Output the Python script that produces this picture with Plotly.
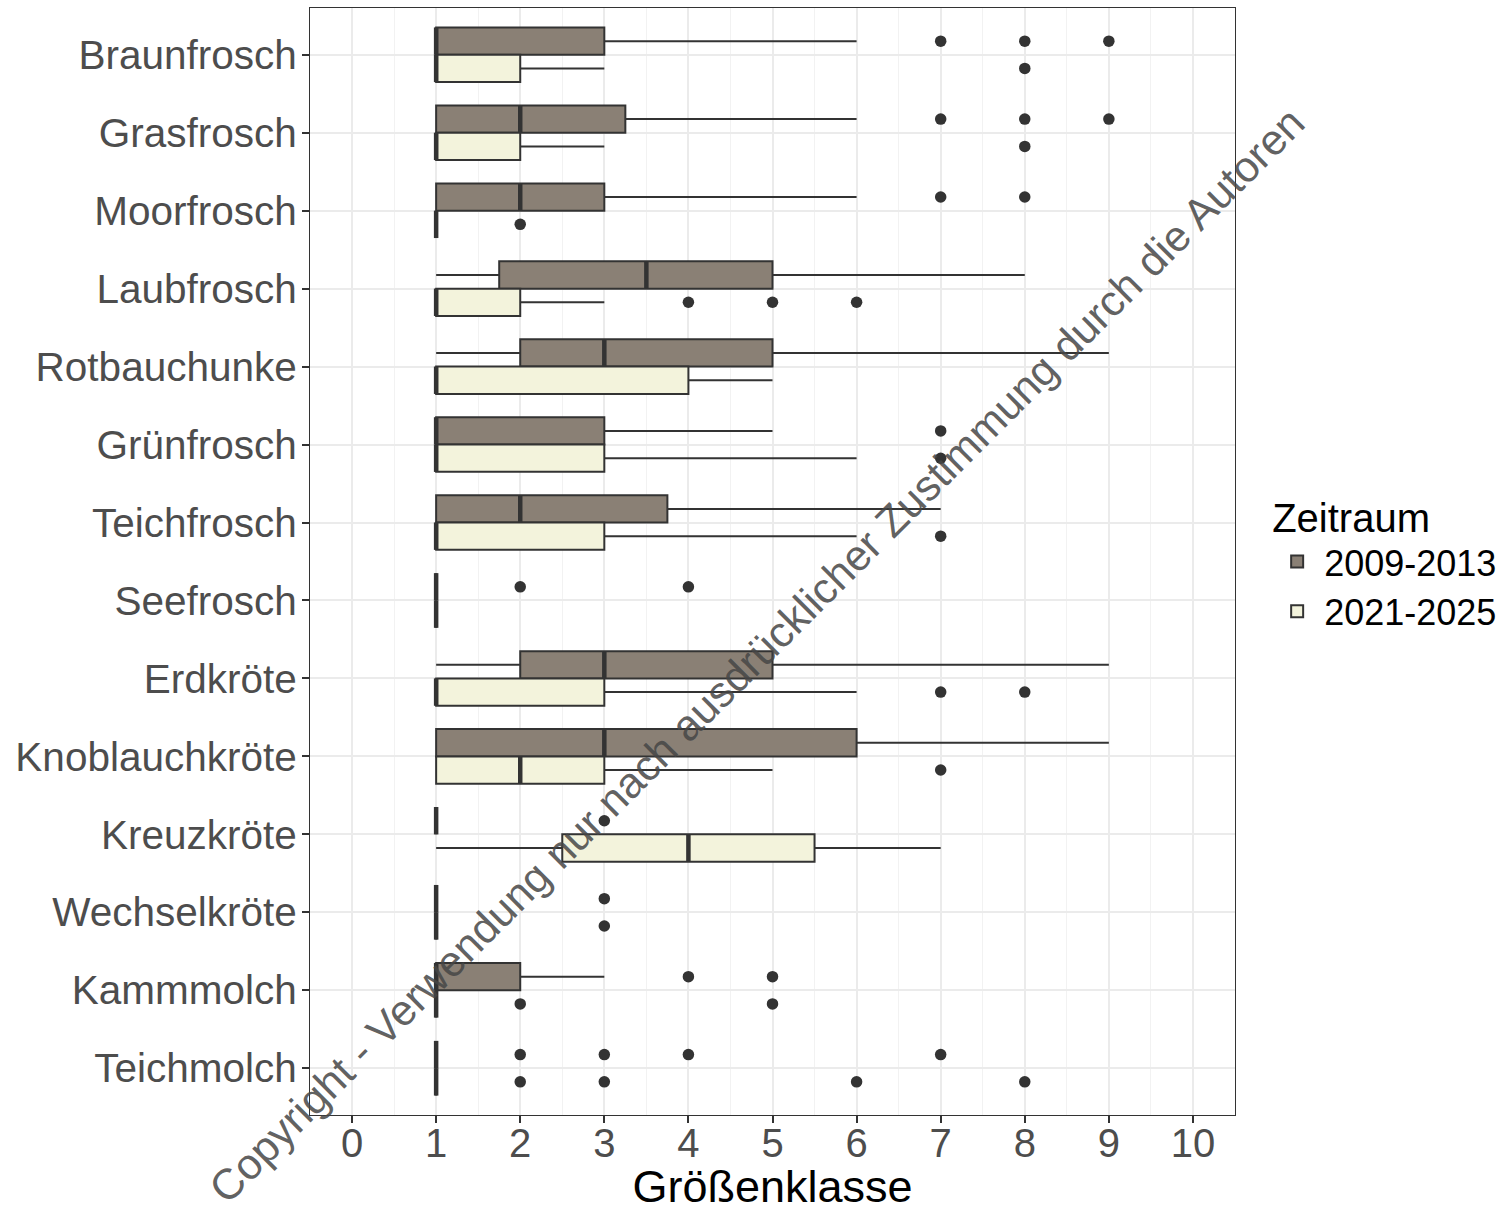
import plotly.graph_objects as go

# Species (top to bottom)
species = ["Braunfrosch", "Grasfrosch", "Moorfrosch", "Laubfrosch", "Rotbauchunke",
           "Grünfrosch", "Teichfrosch", "Seefrosch", "Erdkröte", "Knoblauchkröte",
           "Kreuzkröte", "Wechselkröte", "Kammmolch", "Teichmolch"]

periods = ["2009-2013", "2021-2025"]

# Box statistics per species, period 2009-2013
low_0913 = [1, 1, 1, 1, 1, 1, 1, 1, 1, 1, 1, 1, 1, 1]
q1_0913 = [1, 1, 1, 1.75, 2, 1, 1, 1, 2, 1, 1, 1, 1, 1]
med_0913 = [1, 2, 2, 3.5, 3, 1, 2, 1, 3, 3, 1, 1, 1, 1]
q3_0913 = [3, 3.25, 3, 5, 5, 3, 3.75, 1, 5, 6, 1, 1, 2, 1]
high_0913 = [6, 6, 6, 8, 9, 5, 7, 1, 9, 9, 1, 1, 3, 1]
out_0913 = [[7, 8, 9], [7, 8, 9], [7, 8], [], [], [7], [], [2, 4], [], [], [3], [3], [4, 5], [2, 3, 4, 7]]

# Box statistics per species, period 2021-2025
low_2125 = [1, 1, 1, 1, 1, 1, 1, 1, 1, 1, 1, 1, 1, 1]
q1_2125 = [1, 1, 1, 1, 1, 1, 1, 1, 1, 1, 2.5, 1, 1, 1]
med_2125 = [1, 1, 1, 1, 1, 1, 1, 1, 1, 2, 4, 1, 1, 1]
q3_2125 = [2, 2, 1, 2, 4, 3, 3, 1, 3, 3, 5.5, 1, 1, 1]
high_2125 = [3, 3, 1, 3, 5, 6, 6, 1, 6, 5, 7, 1, 1, 1]
out_2125 = [[8], [8], [2], [4, 5, 6], [], [7], [7], [], [7, 8], [7], [], [3], [2, 5], [2, 3, 6, 8]]

x_ticks = list(range(0, 11))

fill_colors = ["#8A8075", "#F3F3DC"]
edge = "#333333"
box_w = 0.35
dodge = [-box_w / 2, box_w / 2]

stats = [
    (low_0913, q1_0913, med_0913, q3_0913, high_0913, out_0913),
    (low_2125, q1_2125, med_2125, q3_2125, high_2125, out_2125),
]

fig = go.Figure()

for k, (low, q1, med, q3, high, outl) in enumerate(stats):
    pos = [i + dodge[k] for i in range(len(species))]
    fig.add_trace(go.Box(
        name=periods[k], orientation="h", y=pos,
        q1=q1, median=med, q3=q3, lowerfence=low, upperfence=high,
        width=box_w, whiskerwidth=0, boxpoints=False,
        fillcolor=fill_colors[k], line=dict(color=edge, width=2),
        hoverinfo="skip", showlegend=True, legendrank=k + 1,
    ))
    # thick median strokes
    fig.add_trace(go.Scatter(
        x=med, y=pos, mode="markers", showlegend=False, hoverinfo="skip",
        marker=dict(symbol="line-ns", size=19.6, color=edge,
                    line=dict(color=edge, width=4.5)),
    ))
    # outliers
    ox, oy = [], []
    for i, vals in enumerate(outl):
        for v in vals:
            ox.append(v)
            oy.append(pos[i])
    fig.add_trace(go.Scatter(
        x=ox, y=oy, mode="markers", showlegend=False, hoverinfo="skip",
        marker=dict(symbol="circle", size=11.5, color=edge, line=dict(width=0)),
    ))

font_family = "Liberation Sans, Arial, sans-serif"

fig.update_layout(
    width=1506, height=1212, autosize=False,
    margin=dict(l=310, r=271, t=8, b=97, autoexpand=False),
    paper_bgcolor="white", plot_bgcolor="white",
    font=dict(family=font_family),
    boxmode="overlay",
    xaxis=dict(
        range=[-0.5, 10.5], tickvals=x_ticks, ticktext=[str(v) for v in x_ticks],
        automargin=False,
        showgrid=True, gridcolor="#EBEBEB", gridwidth=1.6,
        minor=dict(dtick=0.5, tick0=0, showgrid=True, gridcolor="#F2F2F2", gridwidth=1, ticks=""),
        ticks="outside", ticklen=7, tickwidth=2, tickcolor=edge,
        tickfont=dict(size=40, color="#4D4D4D"), ticklabelstandoff=-14,
        showline=True, mirror=True, linecolor=edge, linewidth=1.2, zeroline=False,
        title=dict(text="Größenklasse", font=dict(size=45, color="black"), standoff=7),
    ),
    yaxis=dict(
        range=[len(species) - 0.4, -0.6],
        tickvals=list(range(len(species))), ticktext=species,
        automargin=False,
        showgrid=True, gridcolor="#EBEBEB", gridwidth=1.6,
        ticks="outside", ticklen=7, tickwidth=2, tickcolor=edge,
        tickfont=dict(size=40.5, color="#4D4D4D"), ticklabelstandoff=-3,
        showline=True, mirror=True, linecolor=edge, linewidth=1.2, zeroline=False,
    ),
    legend=dict(
        title=dict(text="Zeitraum", font=dict(size=40, color="black")),
        font=dict(size=36, color="black"),
        x=1.038, xanchor="left", y=0.574, yanchor="top",
        bgcolor="rgba(0,0,0,0)", tracegroupgap=0, itemsizing="constant", itemwidth=44,
    ),
    annotations=[dict(
        text="Copyright - Verwendung nur nach ausdrücklicher Zustimmung durch die Autoren",
        xref="paper", yref="paper", x=0.483, y=0.4155, showarrow=False,
        textangle=-45, font=dict(size=43, color="rgba(70,70,70,0.85)", family=font_family),
    )],
)

fig.write_html("out.html")
